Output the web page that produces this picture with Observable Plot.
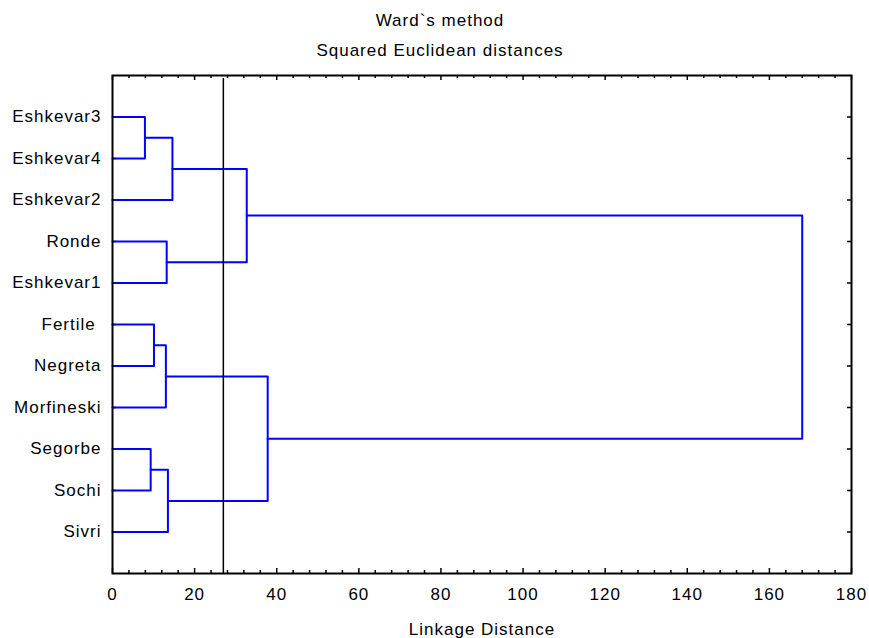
<!DOCTYPE html>
<html><head><meta charset="utf-8">
<script src="https://cdn.jsdelivr.net/npm/d3@7"></script>
<script src="https://cdn.jsdelivr.net/npm/@observablehq/plot@0.6"></script>
<style>
body{margin:0;background:#fff;font-family:"Liberation Sans",Arial,sans-serif;color:#000;}
#wrap{position:relative;width:869px;height:638px;overflow:hidden;}
.t{position:absolute;left:0;width:880px;text-align:center;font-size:17px;letter-spacing:1px;line-height:30px;white-space:nowrap;}
#chart{position:absolute;left:0;top:66px;}
svg text{white-space:pre;}
</style></head><body>
<div id="wrap">
<div class="t" style="top:6px">Ward`s method</div>
<div class="t" style="top:36px">Squared Euclidean distances</div>
<div id="chart"></div>
</div>
<script>
// Leaves (top to bottom)
const leaves = ["Eshkevar3", "Eshkevar4", "Eshkevar2", "Ronde", "Eshkevar1",
  "Fertile ", "Negreta", "Morfineski", "Segorbe", "Sochi", "Sivri"];
// Merges: node ids 0..10 are leaves, merge k creates node 11+k
const mergeA = [0, 11, 3, 12, 5, 15, 8, 17, 16, 14];
const mergeB = [1, 2, 4, 13, 6, 7, 9, 10, 18, 19];
const mergeHeight = [7.9, 14.6, 13.2, 32.7, 10.1, 13.0, 9.3, 13.5, 37.8, 168.0];
const cutDistance = 27.0;
const xMajorTicks = [0, 20, 40, 60, 80, 100, 120, 140, 160, 180];
const xMinorTicks = d3.range(0, 181, 4).filter(v => v % 20 !== 0);

const n = leaves.length;
const leafPos = leaves.map((_, i) => i + 1);
const pos = leafPos.slice();
const hgt = leaves.map(() => 0);
const linkPoints = [];
mergeA.forEach((a, k) => {
  const b = mergeB[k], h = mergeHeight[k];
  linkPoints.push({k, x: hgt[a], y: pos[a]}, {k, x: h, y: pos[a]}, {k, x: h, y: pos[b]}, {k, x: hgt[b], y: pos[b]});
  pos[n + k] = (pos[a] + pos[b]) / 2;
  hgt[n + k] = h;
});

const W = 869, H = 572, mT = 9, mB = 65, mL = 112, mR = 18;
const iW = W - mL - mR, iH = H - mT - mB;

const chart = Plot.plot({
  width: W, height: H, marginTop: mT, marginBottom: mB, marginLeft: mL, marginRight: mR,
  style: {fontFamily: '"Liberation Sans", Arial, sans-serif', fontSize: "17px", color: "#000", background: "#fff", letterSpacing: "1px"},
  x: {domain: [0, 180]},
  y: {domain: [0, 12], reverse: true},
  marks: [
    Plot.axisX(xMajorTicks, {tickSize: 0, tickPadding: 14, label: "Linkage Distance", labelAnchor: "center", labelOffset: 61, labelArrow: "none", fill: "#000"}),
    Plot.axisY(leafPos, {tickSize: 0, tickPadding: 11, tickFormat: d => leaves[d - 1], label: null, fill: "#000"}),
    Plot.tickX(xMajorTicks, {x: d => d, insetTop: iH - 5, stroke: "#000", strokeWidth: 1.5}),
    Plot.tickX(xMinorTicks, {x: d => d, insetTop: iH - 3, stroke: "#000", strokeWidth: 1.5}),
    Plot.tickX(xMajorTicks, {x: d => d, insetBottom: iH - 5, stroke: "#000", strokeWidth: 1.5}),
    Plot.tickX(xMinorTicks, {x: d => d, insetBottom: iH - 3, stroke: "#000", strokeWidth: 1.5}),
    Plot.tickY(leafPos, {y: d => d, insetRight: iW - 4, stroke: "#000", strokeWidth: 1.5}),
    Plot.tickY(leafPos, {y: d => d, insetLeft: iW - 4, stroke: "#000", strokeWidth: 1.5}),
    Plot.line(linkPoints, {x: "x", y: "y", z: "k", stroke: "#0000ff", strokeWidth: 2}),
    Plot.ruleX([cutDistance], {stroke: "#000", strokeWidth: 1.5, insetTop: 3}),
    Plot.frame({stroke: "#000", strokeWidth: 2})
  ]
});
document.getElementById("chart").appendChild(chart);
</script>
</body></html>
